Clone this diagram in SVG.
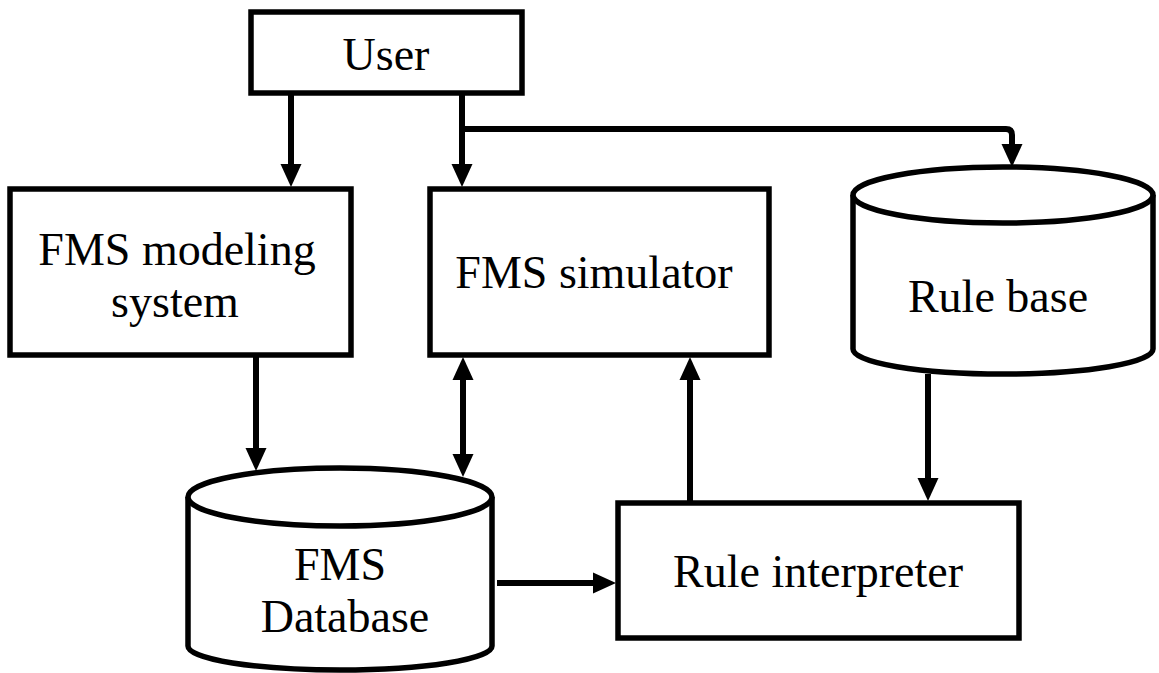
<svg xmlns="http://www.w3.org/2000/svg" width="1159" height="673" viewBox="0 0 1159 673">
  <defs>
    <!-- solid triangular arrowhead; the tip sits 10px past the end of the line -->
    <marker id="arrow" markerUnits="userSpaceOnUse" markerWidth="23" markerHeight="21" refX="13" refY="10.5" orient="auto-start-reverse" overflow="visible">
      <path d="M0,0 L23,10.5 L0,21 Z" fill="#000"/>
    </marker>
  </defs>
  <style>
    .box { fill: #fff; stroke: #000; stroke-width: 5.5; }
    .cyl { fill: #fff; stroke: #000; stroke-width: 5.5; stroke-linejoin: round; }
    .lbl { font-family: "Liberation Serif", "Times New Roman", serif; font-size: 46px; fill: #000; text-anchor: middle; }
    .wire { fill: none; stroke: #000; stroke-width: 6; }
  </style>
  <rect width="1159" height="673" fill="#fff"/>

  <!-- nodes -->
  <g id="user">
    <rect class="box" x="251" y="12" width="271" height="81"/>
    <text class="lbl" x="386" y="70">User</text>
  </g>

  <g id="fms-modeling-system">
    <rect class="box" x="10" y="189" width="341" height="166"/>
    <text class="lbl" x="177" y="265">FMS modeling</text>
    <text class="lbl" x="175" y="317">system</text>
  </g>

  <g id="fms-simulator">
    <rect class="box" x="430" y="189" width="339" height="166"/>
    <text class="lbl" x="594" y="288">FMS simulator</text>
  </g>

  <g id="rule-base">
    <path class="cyl" d="M853,195 L853,349 A150,25 0 0 0 1153,349 L1153,195"/>
    <ellipse class="cyl" cx="1003" cy="195" rx="150" ry="28"/>
    <text class="lbl" x="998" y="312">Rule base</text>
  </g>

  <g id="fms-database">
    <path class="cyl" d="M188,497 L188,646 A152,24 0 0 0 492,646 L492,497"/>
    <ellipse class="cyl" cx="340" cy="497" rx="152" ry="29"/>
    <text class="lbl" x="340" y="580">FMS</text>
    <text class="lbl" x="345" y="632">Database</text>
  </g>

  <g id="rule-interpreter">
    <rect class="box" x="618" y="503" width="401" height="135"/>
    <text class="lbl" x="818" y="587">Rule interpreter</text>
  </g>

  <!-- connectors -->
  <g id="connectors">
    <line class="wire" x1="291" y1="93" x2="291" y2="177" marker-end="url(#arrow)"/>
    <line class="wire" x1="462" y1="93" x2="462" y2="177" marker-end="url(#arrow)"/>
    <path class="wire" d="M462,129 L1006,129 Q1012,129 1012,135 L1012,157" marker-end="url(#arrow)"/>
    <line class="wire" x1="256" y1="355" x2="256" y2="461" marker-end="url(#arrow)"/>
    <line class="wire" x1="463" y1="367" x2="463" y2="467" marker-start="url(#arrow)" marker-end="url(#arrow)"/>
    <line class="wire" x1="497" y1="583" x2="606" y2="583" marker-end="url(#arrow)"/>
    <line class="wire" x1="690" y1="503" x2="690" y2="367" marker-end="url(#arrow)"/>
    <line class="wire" x1="928" y1="374" x2="928" y2="491" marker-end="url(#arrow)"/>
  </g>
</svg>
